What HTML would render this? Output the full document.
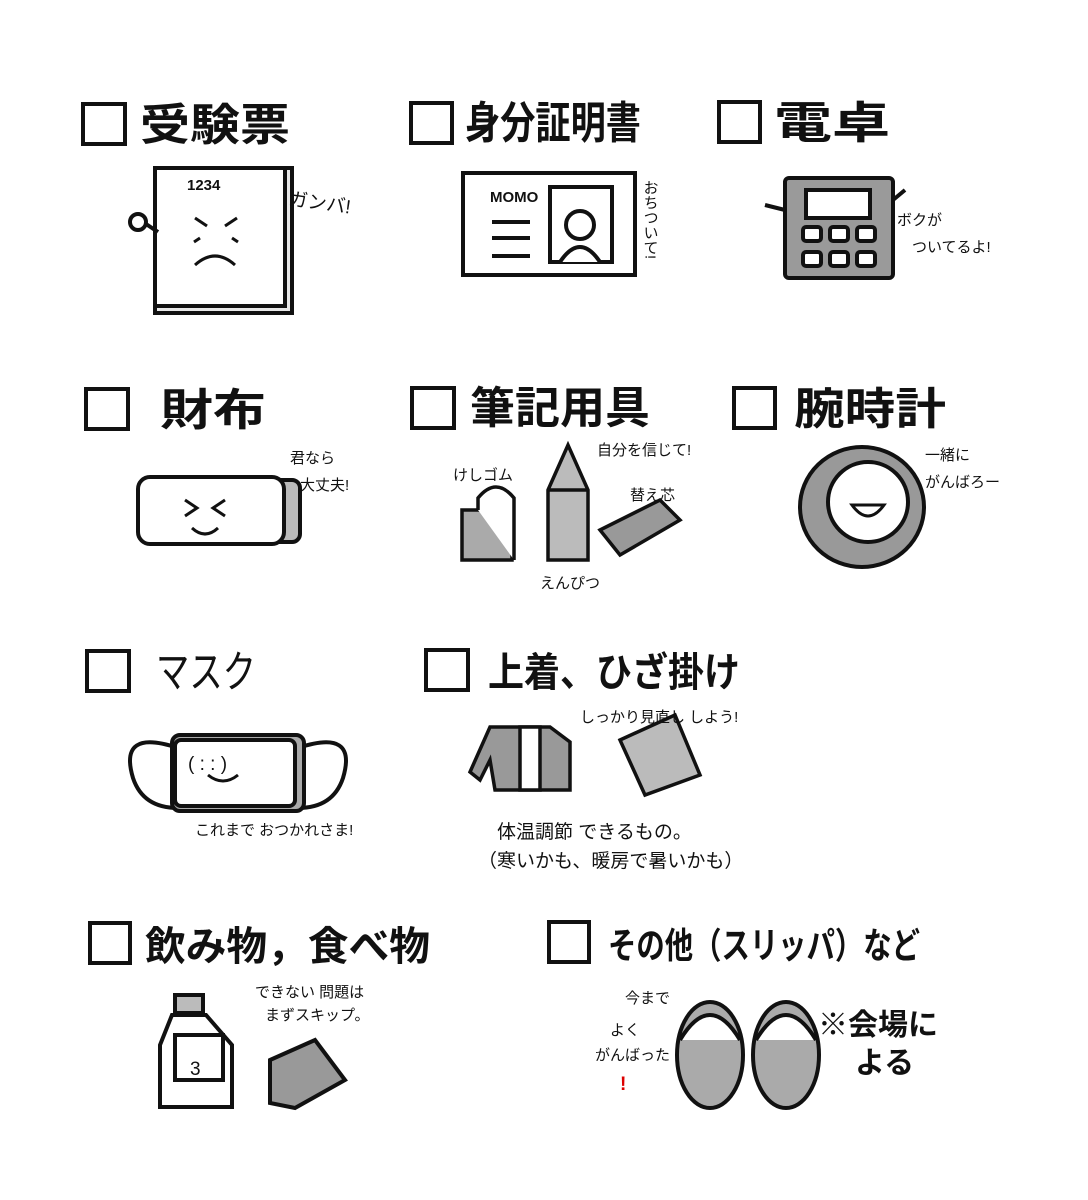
<!DOCTYPE html>
<html><head><meta charset="utf-8"><style>
html,body{margin:0;padding:0;background:#fff;}
svg{display:block;}
text{font-family:"Liberation Sans","Noto Sans CJK JP",sans-serif;fill:#111;}
.h{font-size:44px;font-weight:bold;}
.s{font-size:15px;}
.m{font-size:19px;}
</style></head><body>
<svg width="1088" height="1200" viewBox="0 0 1088 1200" xmlns="http://www.w3.org/2000/svg">
<rect width="1088" height="1200" fill="#fff"/>
<g fill="none" stroke="#111" stroke-width="4">
<rect x="83" y="104" width="42" height="40"/>
<rect x="411" y="103" width="41" height="40"/>
<rect x="719" y="102" width="41" height="40"/>
<rect x="86" y="389" width="42" height="40"/>
<rect x="412" y="388" width="42" height="40"/>
<rect x="734" y="388" width="41" height="40"/>
<rect x="87" y="651" width="42" height="40"/>
<rect x="426" y="650" width="42" height="40"/>
<rect x="90" y="923" width="40" height="40"/>
<rect x="549" y="922" width="40" height="40"/>
</g>
<text class="h" x="140" y="140" textLength="150" lengthAdjust="spacingAndGlyphs">受験票</text>
<text class="h" x="465" y="138" textLength="176" lengthAdjust="spacingAndGlyphs">身分証明書</text>
<text class="h" x="774" y="138" textLength="116" lengthAdjust="spacingAndGlyphs">電卓</text>
<text class="h" x="160" y="425" textLength="106" lengthAdjust="spacingAndGlyphs">財布</text>
<text class="h" x="470" y="423" textLength="180" lengthAdjust="spacingAndGlyphs">筆記用具</text>
<text class="h" x="794" y="424" textLength="152" lengthAdjust="spacingAndGlyphs">腕時計</text>
<text class="h" x="156" y="687" style="font-weight:normal" textLength="100" lengthAdjust="spacingAndGlyphs">マスク</text>
<text class="h" x="488" y="686" style="font-size:40px" textLength="252" lengthAdjust="spacingAndGlyphs">上着、ひざ掛け</text>
<text class="h" x="145" y="960" style="font-size:40px" textLength="285" lengthAdjust="spacingAndGlyphs">飲み物，食べ物</text>
<text class="h" x="608" y="958" style="font-size:36px" textLength="312" lengthAdjust="spacingAndGlyphs">その他（スリッパ）など</text>

<!-- ticket -->
<g stroke="#111" stroke-width="4" fill="#fff">
<rect x="155" y="168" width="137" height="145" fill="#e8e8e8"/>
<rect x="155" y="168" width="130" height="138"/>
<circle cx="138" cy="222" r="8"/>
<line x1="146" y1="224" x2="158" y2="232"/>
</g>
<text class="s" x="187" y="190" style="font-weight:bold">1234</text>
<g stroke="#111" stroke-width="3" fill="none">
<path d="M195 218 l12 8 M237 218 l-12 8 M200 238 l-6 4 M232 238 l6 4 M195 265 q20 -18 40 0"/>
</g>
<text class="m" x="288" y="205" transform="rotate(8 288 205)">ガンバ!</text>

<!-- ID -->
<g stroke="#111" stroke-width="4" fill="#fff">
<rect x="463" y="173" width="172" height="102"/>
<rect x="550" y="187" width="62" height="75"/>
<circle cx="580" cy="225" r="14"/>
<path d="M560 262 q20 -30 40 0"/>
<line x1="492" y1="222" x2="530" y2="222"/><line x1="492" y1="238" x2="530" y2="238"/><line x1="492" y1="256" x2="530" y2="256"/>
</g>
<text class="s" x="490" y="202" style="font-weight:bold">MOMO</text>
<text class="s" x="650" y="180" style="writing-mode:tb">おちついて!</text>

<!-- calc -->
<g stroke="#111" stroke-width="4">
<rect x="785" y="178" width="108" height="100" rx="4" fill="#9a9a9a"/>
<rect x="806" y="190" width="64" height="28" fill="#fff"/>
<g fill="#fff">
<rect x="803" y="227" width="18" height="14" rx="3"/><rect x="830" y="227" width="18" height="14" rx="3"/><rect x="857" y="227" width="18" height="14" rx="3"/>
<rect x="803" y="252" width="18" height="14" rx="3"/><rect x="830" y="252" width="18" height="14" rx="3"/><rect x="857" y="252" width="18" height="14" rx="3"/>
</g>
<path d="M785 210 l-20 -5 M893 200 l12 -10" fill="none"/>
</g>
<text class="s" x="897" y="225">ボクが</text>
<text class="s" x="912" y="252">ついてるよ!</text>

<!-- wallet -->
<g stroke="#111" stroke-width="4">
<rect x="268" y="480" width="32" height="62" rx="8" fill="#bbb"/>
<rect x="138" y="477" width="146" height="67" rx="12" fill="#fff"/>
<path d="M185 500 l12 8 l-12 8 M225 500 l-12 8 l12 8 M192 528 q13 12 26 0" fill="none" stroke-width="3"/>
</g>
<text class="s" x="290" y="463">君なら</text>
<text class="s" x="300" y="490">大丈夫!</text>

<!-- stationery -->
<g stroke="#111" stroke-width="3.5">
<rect x="462" y="510" width="50" height="50" fill="#aaa"/>
<path d="M478 510 v-12 q18 -22 36 0 v62" fill="#fff"/>
<path d="M548 490 l20 -45 l20 45 v70 h-40z" fill="#bbb"/>
<path d="M548 490 h40" fill="none"/>
<path d="M600 530 l60 -30 l20 20 l-60 35z" fill="#999"/>
</g>
<text class="s" x="453" y="480">けしゴム</text>
<text class="s" x="597" y="455">自分を信じて!</text>
<text class="s" x="630" y="500">替え芯</text>
<text class="s" x="540" y="588">えんぴつ</text>

<!-- watch -->
<g stroke="#111" stroke-width="4">
<ellipse cx="862" cy="507" rx="62" ry="60" fill="#999"/>
<circle cx="868" cy="502" r="40" fill="#fff"/>
<path d="M852 505 q16 22 32 0 z" fill="#fff" stroke-width="3"/>
</g>
<text class="s" x="925" y="460">一緒に</text>
<text class="s" x="925" y="487">がんばろー</text>

<!-- mask -->
<g stroke="#111" stroke-width="4">
<path d="M178 748 q-60 -20 -45 30 q10 30 45 30" fill="none"/>
<path d="M298 748 q60 -20 45 30 q-10 30 -45 30" fill="none"/>
<rect x="172" y="735" width="132" height="76" rx="8" fill="#aaa"/>
<rect x="175" y="740" width="120" height="66" rx="6" fill="#fff"/>
<path d="M208 775 q15 12 30 0" fill="none" stroke-width="3"/>
</g>
<text class="m" x="188" y="770">( : : )</text>
<text class="s" x="195" y="835">これまで おつかれさま!</text>

<!-- jacket, blanket -->
<g stroke="#111" stroke-width="3.5">
<path d="M495 727 h55 l20 15 l0 48 h-75 l-5 -30 l-10 20 l-10 -8 l20 -45z" fill="#999"/>
<path d="M520 727 h20 v63 h-20z" fill="#fff"/>
<path d="M620 740 l55 -25 l25 60 l-55 20z" fill="#bbb"/>
</g>
<text class="s" x="580" y="722">しっかり見直し しよう!</text>
<text class="m" x="497" y="838">体温調節 できるもの。</text>
<text class="m" x="478" y="867">（寒いかも、暖房で暑いかも）</text>

<!-- bottle, snack -->
<g stroke="#111" stroke-width="4">
<rect x="175" y="995" width="28" height="18" fill="#bbb"/>
<path d="M172 1015 h34 l26 30 v62 h-72 v-62z" fill="#fff"/>
<rect x="175" y="1035" width="48" height="45" fill="#fff"/>
<path d="M270 1060 l45 -20 l30 40 l-50 28 l-25 -5z" fill="#999"/>
</g>
<text class="m" x="190" y="1075">3</text>
<text class="s" x="255" y="997">できない 問題は</text>
<text class="s" x="265" y="1020">まずスキップ。</text>

<!-- slippers -->
<g stroke="#111" stroke-width="4">
<ellipse cx="710" cy="1055" rx="33" ry="53" fill="#aaa"/>
<ellipse cx="786" cy="1055" rx="33" ry="53" fill="#aaa"/>
<path d="M680 1040 q30 -50 60 0" fill="#fff"/>
<path d="M756 1040 q30 -50 60 0" fill="#fff"/>
</g>
<text class="s" x="625" y="1003">今まで</text>
<text class="s" x="610" y="1035">よく</text>
<text class="s" x="595" y="1060">がんばった</text>
<text class="m" x="620" y="1090" style="fill:#d00;font-weight:bold">!</text>
<text class="h" x="818" y="1035" style="font-size:30px">※会場に</text>
<text class="h" x="855" y="1073" style="font-size:30px">よる</text>
</svg>
</body></html>
